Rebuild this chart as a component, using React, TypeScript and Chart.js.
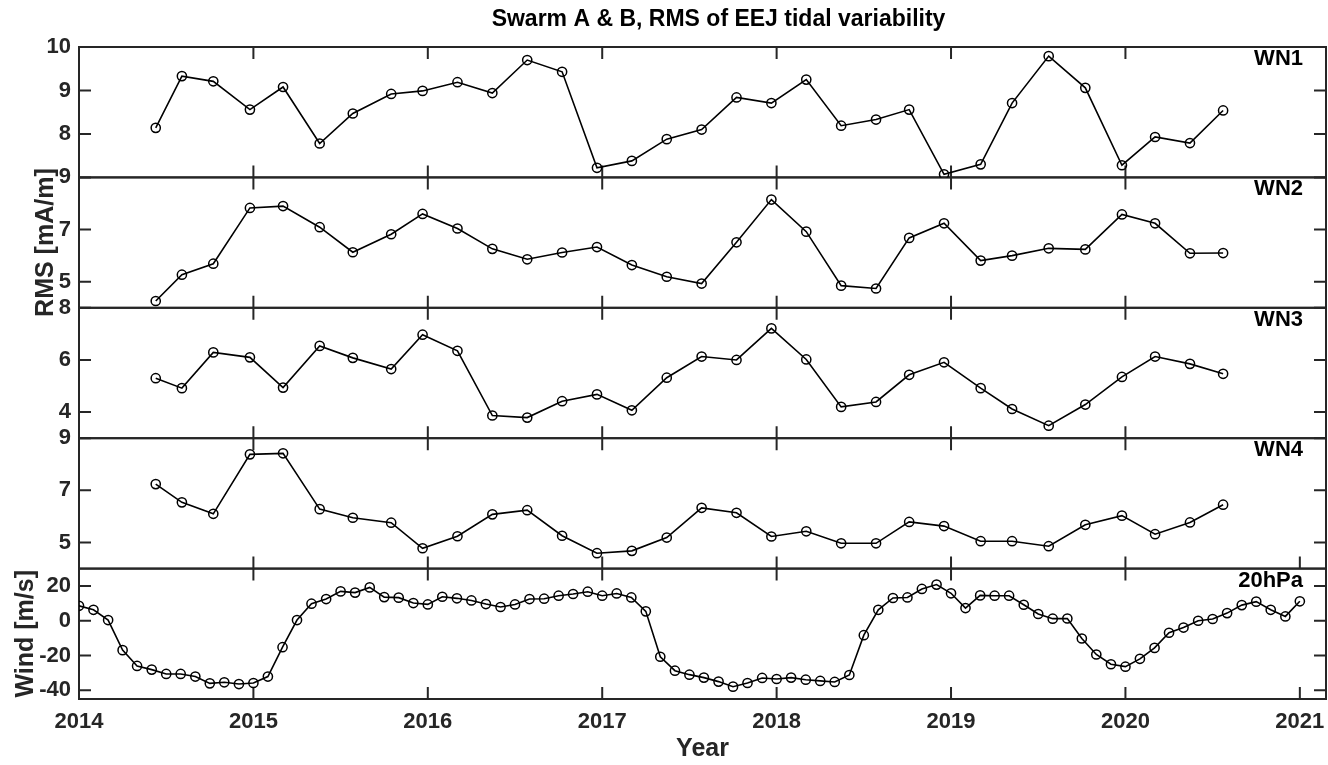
import React, { useEffect, useRef } from 'react';
import { Chart, registerables } from 'chart.js';

Chart.register(...registerables);

// ---------- text ----------
const TITLE = 'Swarm A & B, RMS of EEJ tidal variability';
const X_LABEL = 'Year';
const RMS_LABEL = 'RMS [mA/m]';
const WIND_LABEL = 'Wind [m/s]';

// ---------- x axis ----------
const X_MIN = 2014;
const X_MAX = 2021.15;
const X_TICKS = [2014, 2015, 2016, 2017, 2018, 2019, 2020, 2021];

// ---------- EEJ tidal RMS (Swarm A & B) ----------
const WN_X = [
  2014.44, 2014.59, 2014.77, 2014.98, 2015.17, 2015.38, 2015.57, 2015.79,
  2015.97, 2016.17, 2016.37, 2016.57, 2016.77, 2016.97, 2017.17, 2017.37,
  2017.57, 2017.77, 2017.97, 2018.17, 2018.37, 2018.57, 2018.76, 2018.96,
  2019.17, 2019.35, 2019.56, 2019.77, 2019.98, 2020.17, 2020.37, 2020.56,
];
const WN1 = [
  8.14, 9.33, 9.21, 8.56, 9.08, 7.78, 8.47, 8.92, 8.99, 9.19, 8.94, 9.70, 9.43, 7.22, 7.38, 7.88,
  8.10, 8.84, 8.71, 9.25, 8.19, 8.33, 8.56, 7.07, 7.30, 8.71, 9.79, 9.06, 7.28, 7.93, 7.79, 8.54,
];
const WN2 = [
  4.26, 5.27, 5.69, 7.83, 7.90, 7.09, 6.13, 6.82, 7.60, 7.04, 6.26, 5.86, 6.12, 6.33, 5.64, 5.19,
  4.93, 6.51, 8.15, 6.92, 4.85, 4.74, 6.68, 7.24, 5.81, 6.00, 6.28, 6.24, 7.58, 7.24, 6.09, 6.10,
];
const WN3 = [
  5.30, 4.92, 6.29, 6.10, 4.94, 6.54, 6.08, 5.65, 6.97, 6.35, 3.87, 3.79, 4.42, 4.68, 4.07, 5.32,
  6.13, 6.00, 7.21, 6.02, 4.20, 4.39, 5.43, 5.91, 4.92, 4.12, 3.48, 4.29, 5.35, 6.13, 5.85, 5.47,
];
const WN4 = [
  7.24, 6.54, 6.10, 8.38, 8.42, 6.28, 5.95, 5.76, 4.78, 5.24, 6.08, 6.24, 5.26, 4.59, 4.68, 5.19,
  6.33, 6.14, 5.23, 5.43, 4.97, 4.97, 5.79, 5.63, 5.05, 5.05, 4.86, 5.68, 6.03, 5.32, 5.77, 6.45,
];

// ---------- 20 hPa zonal wind (monthly) ----------
const WIND_X = [
  2014.000, 2014.083, 2014.167, 2014.250, 2014.333, 2014.417, 2014.500, 2014.583, 2014.667, 2014.750, 2014.833, 2014.917,
  2015.000, 2015.083, 2015.167, 2015.250, 2015.333, 2015.417, 2015.500, 2015.583, 2015.667, 2015.750, 2015.833, 2015.917,
  2016.000, 2016.083, 2016.167, 2016.250, 2016.333, 2016.417, 2016.500, 2016.583, 2016.667, 2016.750, 2016.833, 2016.917,
  2017.000, 2017.083, 2017.167, 2017.250, 2017.333, 2017.417, 2017.500, 2017.583, 2017.667, 2017.750, 2017.833, 2017.917,
  2018.000, 2018.083, 2018.167, 2018.250, 2018.333, 2018.417, 2018.500, 2018.583, 2018.667, 2018.750, 2018.833, 2018.917,
  2019.000, 2019.083, 2019.167, 2019.250, 2019.333, 2019.417, 2019.500, 2019.583, 2019.667, 2019.750, 2019.833, 2019.917,
  2020.000, 2020.083, 2020.167, 2020.250, 2020.333, 2020.417, 2020.500, 2020.583, 2020.667, 2020.750, 2020.833, 2020.917,
  2021.000,
];
const WIND = [
  8.6, 6.3, 0.4, -16.9, -26.0, -28.1, -30.6, -30.6, -32.1, -36.0, -35.4, -36.4,
  -35.8, -32.1, -15.2, 0.4, 9.8, 12.5, 16.9, 16.2, 19.2, 13.6, 13.3, 10.2,
  9.4, 13.8, 12.9, 11.7, 9.6, 7.9, 9.4, 12.5, 12.7, 14.4, 15.4, 16.7,
  14.4, 15.7, 13.4, 5.4, -20.7, -28.7, -31.0, -32.7, -35.0, -37.9, -35.8, -32.9,
  -33.5, -32.7, -33.9, -34.6, -35.2, -31.2, -8.3, 6.3, 13.1, 13.4, 18.3, 20.8,
  15.8, 7.3, 14.6, 14.4, 14.4, 9.2, 3.9, 1.2, 1.3, -10.2, -19.4, -25.0,
  -26.4, -21.9, -15.6, -6.9, -3.9, 0.0, 1.0, 4.4, 9.0, 11.0, 6.3, 2.5,
  11.2,
];

// ---------- y ticks ----------
const WN1_TICKS = [8, 9, 10];
const WN2_TICKS = [5, 7, 9];
const WN3_TICKS = [4, 6, 8];
const WN4_TICKS = [5, 7, 9];
const WIND_TICKS = [-40, -20, 0, 20];

const PANELS = [
  { id: 'y1', name: 'WN1', xs: WN_X, ys: WN1, min: 7, max: 10, ticks: WN1_TICKS, label: '' },
  { id: 'y2', name: 'WN2', xs: WN_X, ys: WN2, min: 4, max: 9, ticks: WN2_TICKS, label: RMS_LABEL },
  { id: 'y3', name: 'WN3', xs: WN_X, ys: WN3, min: 3, max: 8, ticks: WN3_TICKS, label: '' },
  { id: 'y4', name: 'WN4', xs: WN_X, ys: WN4, min: 4, max: 9, ticks: WN4_TICKS, label: '' },
  { id: 'y5', name: '20hPa', xs: WIND_X, ys: WIND, min: -45, max: 30, ticks: WIND_TICKS, label: WIND_LABEL },
];

const INK = '#262626';
const FONT = "'Liberation Sans', Arial, Helvetica, sans-serif";
const TICK_FONT = 22;
const LABEL_FONT = 25;
const TICK_LEN = 12;

const decorPlugin = {
  id: 'decor',
  beforeDatasetsDraw(chart: any) {
    const { ctx, chartArea, scales } = chart;
    const xs = scales.x;
    const left = chartArea.left;
    const right = chartArea.right;
    ctx.save();
    ctx.strokeStyle = INK;
    ctx.lineWidth = 2;
    PANELS.forEach((p, i) => {
      const s = scales[p.id];
      const top = s.top;
      const bottom = s.bottom;
      ctx.strokeRect(left, top, right - left, bottom - top);
      ctx.beginPath();
      const inner = X_TICKS.slice(1, -1);
      inner.forEach((v) => {
        const px = xs.getPixelForValue(v);
        ctx.moveTo(px, top);
        ctx.lineTo(px, top + TICK_LEN);
      });
      const bottomTicks = i >= 3 ? X_TICKS.slice(1) : inner;
      bottomTicks.forEach((v) => {
        const px = xs.getPixelForValue(v);
        ctx.moveTo(px, bottom);
        ctx.lineTo(px, bottom - TICK_LEN);
      });
      p.ticks.forEach((v) => {
        const py = s.getPixelForValue(v);
        ctx.moveTo(left, py);
        ctx.lineTo(left + TICK_LEN, py);
        ctx.moveTo(right, py);
        ctx.lineTo(right - TICK_LEN, py);
      });
      ctx.stroke();
    });
    ctx.restore();
  },
  afterDraw(chart: any) {
    const { ctx, chartArea, scales } = chart;
    ctx.save();
    // title
    ctx.fillStyle = '#000';
    ctx.font = `bold 23px ${FONT}`;
    ctx.textAlign = 'center';
    ctx.textBaseline = 'middle';
    ctx.fillText(TITLE, (chartArea.left + chartArea.right) / 2 + 16, 20);
    // panel names
    ctx.font = `bold ${TICK_FONT}px ${FONT}`;
    ctx.textAlign = 'right';
    PANELS.forEach((p) => {
      const s = scales[p.id];
      ctx.fillText(p.name, chartArea.right - 23, s.top + 12);
    });
    // y axis labels
    ctx.fillStyle = INK;
    PANELS.forEach((p) => {
      if (!p.label) return;
      const s = scales[p.id];
      ctx.font = `bold ${TICK_FONT}px ${FONT}`;
      let widest = 0;
      p.ticks.forEach((v) => {
        widest = Math.max(widest, ctx.measureText(String(v)).width);
      });
      const x = chartArea.left - 8 - widest - 13;
      const y = (s.top + s.bottom) / 2;
      ctx.font = `bold ${LABEL_FONT}px ${FONT}`;
      ctx.save();
      ctx.translate(x, y);
      ctx.rotate(-Math.PI / 2);
      ctx.textAlign = 'center';
      ctx.textBaseline = 'middle';
      ctx.fillText(p.label, 0, 0);
      ctx.restore();
    });
    ctx.restore();
  },
};

export default function App() {
  const canvasRef = useRef<HTMLCanvasElement | null>(null);

  useEffect(() => {
    document.body.style.margin = '0';
    document.body.style.overflow = 'hidden';
    document.body.style.background = '#ffffff';
    const canvas = canvasRef.current;
    if (!canvas) return;

    const scales: any = {
      x: {
        type: 'linear',
        position: 'bottom',
        min: X_MIN,
        max: X_MAX,
        grid: { display: false, drawTicks: false },
        border: { display: false },
        afterBuildTicks: (s: any) => {
          s.ticks = X_TICKS.map((v) => ({ value: v }));
        },
        afterFit: (s: any) => {
          s.height = 66;
          s.paddingLeft = 0;
          s.paddingRight = 0;
        },
        ticks: {
          padding: 10,
          color: INK,
          autoSkip: false,
          maxRotation: 0,
          font: { family: FONT, size: TICK_FONT, weight: 'bold' },
          callback: (v: any) => String(v),
        },
        title: {
          display: true,
          text: X_LABEL,
          color: INK,
          font: { family: FONT, size: LABEL_FONT, weight: 'bold' },
          padding: { top: 0, bottom: 1 },
        },
      },
    };
    // define bottom panel first so that the last defined ends on top of the stack
    [...PANELS].reverse().forEach((p) => {
      scales[p.id] = {
        type: 'linear',
        position: 'left',
        stack: 'panels',
        stackWeight: 1,
        min: p.min,
        max: p.max,
        grid: { display: false, drawTicks: false },
        border: { display: false },
        afterBuildTicks: (s: any) => {
          s.ticks = p.ticks.map((v) => ({ value: v }));
        },
        afterFit: (s: any) => {
          s.width = 79;
        },
        ticks: {
          padding: 8,
          color: INK,
          autoSkip: false,
          font: { family: FONT, size: TICK_FONT, weight: 'bold' },
          callback: (v: any) => String(v),
        },
      };
    });

    const chart = new Chart(canvas, {
      type: 'line',
      data: {
        datasets: PANELS.map((p) => ({
          label: p.name,
          data: p.xs.map((x, i) => ({ x, y: p.ys[i] })),
          xAxisID: 'x',
          yAxisID: p.id,
          borderColor: '#000000',
          borderWidth: 1.6,
          tension: 0,
          pointRadius: 4.6,
          pointBorderWidth: 1.5,
          pointBorderColor: '#000000',
          pointBackgroundColor: 'rgba(0,0,0,0)',
          pointHoverRadius: 4.6,
        })),
      },
      options: {
        responsive: false,
        animation: false,
        events: [],
        layout: { autoPadding: false, padding: { top: 47, right: 2, bottom: 0, left: 0 } },
        plugins: {
          legend: { display: false },
          title: { display: false },
          tooltip: { enabled: false },
        },
        scales,
      } as any,
      plugins: [decorPlugin],
    });

    return () => chart.destroy();
  }, []);

  return (
    <div style={{ width: 1328, height: 765, position: 'relative', background: '#fff' }}>
      <canvas ref={canvasRef} width={1328} height={765} style={{ display: 'block' }} />
    </div>
  );
}
